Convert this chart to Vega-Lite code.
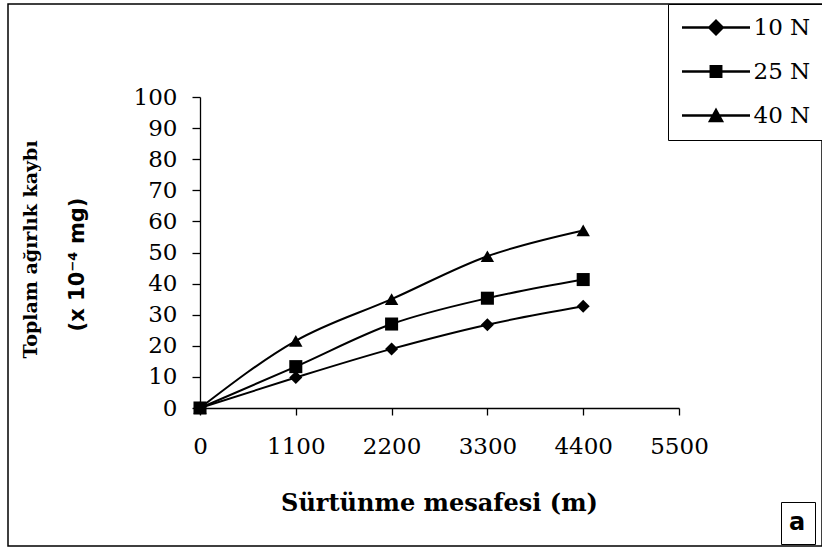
{
  "$schema": "https://vega.github.io/schema/vega-lite/v6.json",
  "width": 814,
  "height": 542,
  "autosize": {"type": "none"},
  "padding": {"left": 8, "top": 4, "right": 0, "bottom": 2},
  "background": "white",
  "config": {
    "view": {"stroke": "black", "strokeWidth": 1.5},
    "axis": {"grid": false, "domainColor": "black", "tickColor": "black", "labelColor": "black", "titleColor": "black", "domainWidth": 1.3, "tickWidth": 1.3}
  },
  "datasets": {
    "wear": [
      {"dist": 0, "val": 0, "series": "10 N"},
      {"dist": 1100, "val": 9.8, "series": "10 N"},
      {"dist": 2200, "val": 19, "series": "10 N"},
      {"dist": 3300, "val": 26.8, "series": "10 N"},
      {"dist": 4400, "val": 32.7, "series": "10 N"},
      {"dist": 0, "val": 0, "series": "25 N"},
      {"dist": 1100, "val": 13.3, "series": "25 N"},
      {"dist": 2200, "val": 27, "series": "25 N"},
      {"dist": 3300, "val": 35.3, "series": "25 N"},
      {"dist": 4400, "val": 41.3, "series": "25 N"},
      {"dist": 0, "val": 0, "series": "40 N"},
      {"dist": 1100, "val": 21.6, "series": "40 N"},
      {"dist": 2200, "val": 35, "series": "40 N"},
      {"dist": 3300, "val": 48.8, "series": "40 N"},
      {"dist": 4400, "val": 57.1, "series": "40 N"}
    ],
    "panel": [{"panel": "a"}]
  },
  "layer": [
    {
      "data": {"name": "wear"},
      "mark": {"type": "line", "interpolate": "monotone", "color": "black", "strokeWidth": 2},
      "encoding": {
        "x": {
          "field": "dist", "type": "quantitative",
          "scale": {"domain": [0, 5500], "range": [192, 671], "nice": false, "zero": false},
          "axis": {
            "values": [0, 1100, 2200, 3300, 4400, 5500],
            "format": "d",
            "labelOverlap": false,
            "labelFlush": false,
            "offset": -138,
            "tickSize": 7,
            "labelPadding": 20,
            "labelFont": "DejaVu Serif", "labelFontSize": 23,
            "title": "Sürtünme mesafesi (m)",
            "titleFont": "DejaVu Serif", "titleFontSize": 24, "titleFontWeight": "bold",
            "titleX": 431, "titleY": 102, "titleAlign": "center", "titleBaseline": "alphabetic", "titleAnchor": null
          }
        },
        "y": {
          "field": "val", "type": "quantitative",
          "scale": {"domain": [0, 100], "range": [404, 93], "nice": false},
          "axis": {
            "values": [0, 10, 20, 30, 40, 50, 60, 70, 80, 90, 100],
            "labelOverlap": false,
            "labelFlush": false,
            "offset": -192,
            "tickSize": 8,
            "labelPadding": 15,
            "labelFont": "DejaVu Serif", "labelFontSize": 23,
            "title": "Toplam ağırlık kaybı",
            "titleFont": "DejaVu Serif", "titleFontSize": 19, "titleFontWeight": "bold",
            "titleAngle": -90, "titleX": -170, "titleY": 245, "titleAlign": "center", "titleBaseline": "middle"
          }
        },
        "detail": {"field": "series", "type": "nominal"}
      }
    },
    {
      "data": {"name": "wear"},
      "transform": [{"filter": "datum.series === '10 N'"}],
      "mark": {"type": "point", "filled": true, "color": "black", "opacity": 1, "size": 170, "shape": "diamond"},
      "encoding": {
        "x": {"field": "dist", "type": "quantitative"},
        "y": {
          "field": "val", "type": "quantitative",
          "axis": {
            "orient": "left",
            "offset": 0,
            "labels": false, "ticks": false, "domain": false,
            "title": "(x 10⁻⁴ mg)",
            "titleFont": "DejaVu Sans", "titleFontSize": 21, "titleFontWeight": "bold",
            "titleAngle": -90, "titleX": 69, "titleY": 260, "titleAlign": "center", "titleBaseline": "middle"
          }
        }
      }
    },
    {
      "data": {"name": "wear"},
      "transform": [{"filter": "datum.series === '25 N'"}],
      "mark": {"type": "point", "filled": true, "color": "black", "opacity": 1, "size": 170, "shape": "square"},
      "encoding": {
        "x": {"field": "dist", "type": "quantitative"},
        "y": {"field": "val", "type": "quantitative", "axis": null}
      }
    },
    {
      "data": {"name": "wear"},
      "transform": [{"filter": "datum.series === '40 N'"}],
      "mark": {"type": "point", "filled": true, "color": "black", "opacity": 1, "size": 180, "shape": "triangle-up"},
      "encoding": {
        "x": {"field": "dist", "type": "quantitative"},
        "y": {"field": "val", "type": "quantitative", "axis": null}
      }
    },
    {
      "data": {"name": "wear"},
      "mark": {"type": "point", "filled": true, "fill": "black", "opacity": 0},
      "encoding": {
        "x": {"field": "dist", "type": "quantitative"},
        "y": {"field": "val", "type": "quantitative", "axis": null},
        "shape": {
          "field": "series", "type": "nominal",
          "scale": {"range": [
            "M-4,-0.15L4,-0.15L4,0.15L-4,0.15ZM0,-1L1,0L0,1L-1,0Z",
            "M-4,-0.15L4,-0.15L4,0.15L-4,0.15ZM-0.76,-0.76L0.76,-0.76L0.76,0.76L-0.76,0.76Z",
            "M-4,-0.15L4,-0.15L4,0.15L-4,0.15ZM0,-0.95L0.95,0.8L-0.95,0.8Z"
          ]},
          "legend": {
            "orient": "none", "legendX": 660, "legendY": 0,
            "title": null,
            "symbolSize": 289, "symbolStrokeWidth": 0, "symbolFillColor": "black", "symbolOpacity": 1,
            "symbolOffset": 24.5,
            "labelOffset": 26,
            "labelFont": "DejaVu Serif", "labelFontSize": 23, "labelColor": "black",
            "rowPadding": 20,
            "padding": 12,
            "strokeColor": "black", "fillColor": "white",
            "encode": {
              "symbols": {
                "update": {
                  "fill": {"value": "black"},
                  "opacity": {"value": 1},
                  "fillOpacity": {"value": 1}
                }
              }
            }
          }
        }
      }
    },
    {
      "data": {"name": "panel"},
      "mark": {"type": "point", "opacity": 0},
      "encoding": {
        "color": {
          "field": "panel", "type": "nominal",
          "scale": {"range": ["black"]},
          "legend": {
            "orient": "none", "legendX": 773, "legendY": 498,
            "title": null,
            "symbolSize": 0, "symbolStrokeWidth": 0, "symbolOpacity": 0,
            "labelOffset": -25,
            "labelFont": "DejaVu Sans", "labelFontSize": 24, "labelFontWeight": "bold", "labelColor": "black",
            "padding": 9,
            "strokeColor": "black", "fillColor": "white"
          }
        }
      }
    }
  ],
  "resolve": {"axis": {"y": "independent"}}
}
